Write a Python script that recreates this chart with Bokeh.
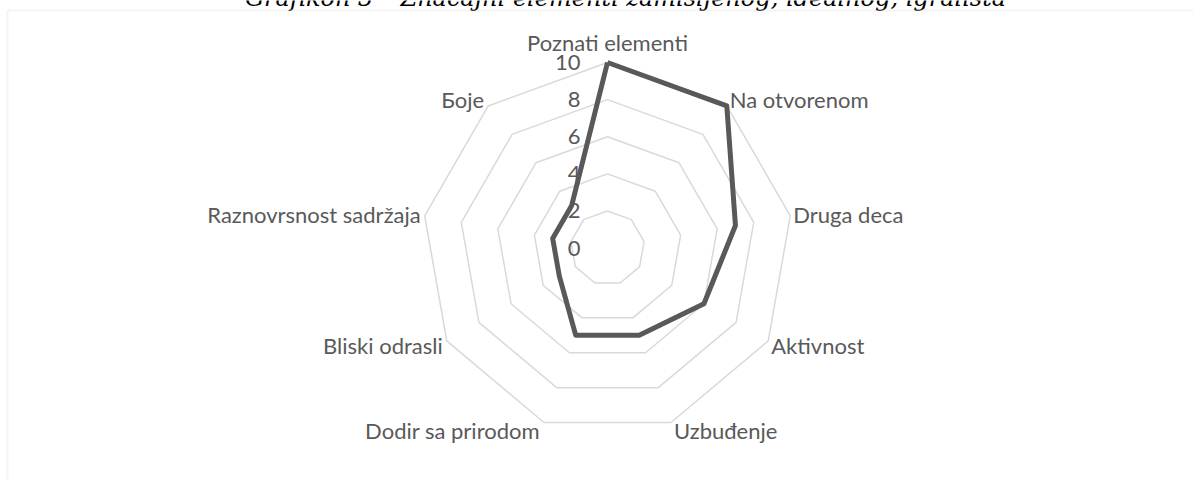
import numpy as np
from bokeh.plotting import figure
from bokeh.models import ColumnDataSource, BoxAnnotation, Range1d
from bokeh.core.properties import value
from bokeh.embed import file_html
from bokeh.resources import INLINE

# ---- data ----
categories = ["Poznati elementi", "Na otvorenom", "Druga deca", "Aktivnost",
              "Uzbuđenje", "Dodir sa prirodom", "Bliski odrasli",
              "Raznovrsnost sadržaja", "Боје"]
values = [10, 10, 7, 6, 5, 5, 3, 3, 3]
ticks = [0, 2, 4, 6, 8, 10]
tick_labels = ["0", "2", "4", "6", "8", "10"]
title_text = "Grafikon 3 – Značajni elementi zamišljenog, idealnog, igrališta"

# ---- layout ----
W, H = 1193, 479
PX = 18.56          # pixels per unit
CX, CY = 607, 247.6 # centre in figure pixels
RMAX = max(ticks)

FONT = value("Lato")
FS = "22px"
TXT = "#595959"
GRID = "#D9D9D9"

p = figure(width=W, height=H, output_backend="svg", toolbar_location=None,
           x_range=Range1d(-CX / PX, (W - CX) / PX),
           y_range=Range1d(-(H - CY) / PX, CY / PX),
           x_axis_type=None, y_axis_type=None, min_border=0)
p.grid.visible = False
p.outline_line_color = None
p.background_fill_color = "white"
p.border_fill_color = "white"

n = len(categories)
ang = np.pi / 2 - np.arange(n) * 2 * np.pi / n

# chart-area border
p.add_layout(BoxAnnotation(left=(7 - CX) / PX, top=(CY - 10) / PX,
                           right=(W + 30 - CX) / PX, bottom=-(H + 30 - CY) / PX,
                           fill_alpha=0, line_color=GRID, line_width=2))

# title (cut by the top edge, as in the reference)
p.text(x=[(625 - CX) / PX], y=[(CY + 3) / PX], text=[title_text],
       text_align="center", text_baseline="alphabetic",
       text_font=value("DejaVu Serif"), text_font_style="italic",
       text_font_size="24px", text_color="#000000")

# grid rings
for r in ticks[1:]:
    xs = list(r * np.cos(ang)) + [r * np.cos(ang[0])]
    ys = list(r * np.sin(ang)) + [r * np.sin(ang[0])]
    p.line(xs, ys, line_color=GRID, line_width=1.5)

# series
vx = np.array(values) * np.cos(ang)
vy = np.array(values) * np.sin(ang)
p.line(list(vx) + [vx[0]], list(vy) + [vy[0]], line_color="#595959",
       line_width=5, line_join="round")

# tick labels
p.text(x=[0] * len(ticks), y=ticks, text=tick_labels, x_offset=-27,
       text_align="right", text_baseline="middle", text_font=FONT,
       text_font_size=FS, text_color=TXT)

# category labels
sx = np.cos(ang)
sy = np.sin(ang)
aligns, xo, yo = [], [], []
for c, s in zip(sx, sy):
    if c > 0.1:
        aligns.append("left"); xo.append(3)
    elif c < -0.1:
        aligns.append("right"); xo.append(-4)
    else:
        aligns.append("center"); xo.append(0)
    yo.append(-20 if s > 0.99 else -s * 9)
src = ColumnDataSource(dict(x=RMAX * sx, y=RMAX * sy, t=categories,
                            a=aligns, xo=xo, yo=yo))
p.text(x="x", y="y", text="t", source=src, text_align="a", x_offset="xo",
       y_offset="yo", text_baseline="middle", text_font=FONT,
       text_font_size=FS, text_color=TXT)

open("out.html", "w").write(file_html(p, INLINE))
